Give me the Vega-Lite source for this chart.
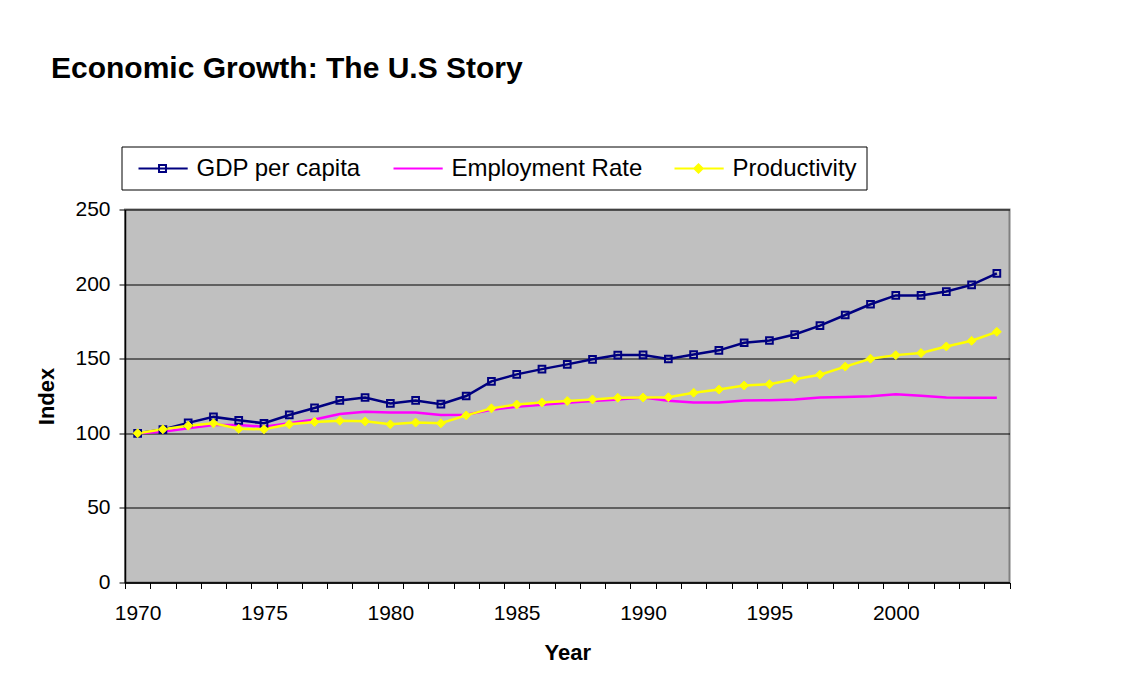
{
  "$schema": "https://vega.github.io/schema/vega-lite/v6.json",
  "width": 884.5,
  "height": 373,
  "autosize": "none",
  "padding": {"left": 125, "top": 209.5, "right": 120.5, "bottom": 111.5},
  "background": "white",
  "title": {
    "text": "Economic Growth: The U.S Story",
    "anchor": "start",
    "frame": "group",
    "font": "Liberation Sans",
    "fontSize": 30,
    "fontWeight": "bold",
    "color": "black",
    "offset": 62,
    "dx": -74
  },
  "config": {
    "font": "Liberation Sans",
    "view": {"fill": "#C0C0C0", "stroke": "#808080", "strokeWidth": 2}
  },
  "data": {
    "values": [
      {"Year": 1970, "Series": "GDP per capita", "Value": 100},
      {"Year": 1971, "Series": "GDP per capita", "Value": 102.5},
      {"Year": 1972, "Series": "GDP per capita", "Value": 107},
      {"Year": 1973, "Series": "GDP per capita", "Value": 111},
      {"Year": 1974, "Series": "GDP per capita", "Value": 108.7},
      {"Year": 1975, "Series": "GDP per capita", "Value": 106.7},
      {"Year": 1976, "Series": "GDP per capita", "Value": 112.3},
      {"Year": 1977, "Series": "GDP per capita", "Value": 117},
      {"Year": 1978, "Series": "GDP per capita", "Value": 122},
      {"Year": 1979, "Series": "GDP per capita", "Value": 124},
      {"Year": 1980, "Series": "GDP per capita", "Value": 120},
      {"Year": 1981, "Series": "GDP per capita", "Value": 122},
      {"Year": 1982, "Series": "GDP per capita", "Value": 119.5},
      {"Year": 1983, "Series": "GDP per capita", "Value": 125},
      {"Year": 1984, "Series": "GDP per capita", "Value": 134.8},
      {"Year": 1985, "Series": "GDP per capita", "Value": 139.5},
      {"Year": 1986, "Series": "GDP per capita", "Value": 143},
      {"Year": 1987, "Series": "GDP per capita", "Value": 146.2},
      {"Year": 1988, "Series": "GDP per capita", "Value": 149.6},
      {"Year": 1989, "Series": "GDP per capita", "Value": 152.4},
      {"Year": 1990, "Series": "GDP per capita", "Value": 152.5},
      {"Year": 1991, "Series": "GDP per capita", "Value": 149.8},
      {"Year": 1992, "Series": "GDP per capita", "Value": 152.8},
      {"Year": 1993, "Series": "GDP per capita", "Value": 155.6},
      {"Year": 1994, "Series": "GDP per capita", "Value": 160.7},
      {"Year": 1995, "Series": "GDP per capita", "Value": 162.2},
      {"Year": 1996, "Series": "GDP per capita", "Value": 166.2},
      {"Year": 1997, "Series": "GDP per capita", "Value": 172.2},
      {"Year": 1998, "Series": "GDP per capita", "Value": 179.3},
      {"Year": 1999, "Series": "GDP per capita", "Value": 186.5},
      {"Year": 2000, "Series": "GDP per capita", "Value": 192.4},
      {"Year": 2001, "Series": "GDP per capita", "Value": 192.4},
      {"Year": 2002, "Series": "GDP per capita", "Value": 195},
      {"Year": 2003, "Series": "GDP per capita", "Value": 199.5},
      {"Year": 2004, "Series": "GDP per capita", "Value": 207.2},
      {"Year": 1970, "Series": "Employment Rate", "Value": 100},
      {"Year": 1971, "Series": "Employment Rate", "Value": 101},
      {"Year": 1972, "Series": "Employment Rate", "Value": 103.3},
      {"Year": 1973, "Series": "Employment Rate", "Value": 105.6},
      {"Year": 1974, "Series": "Employment Rate", "Value": 105.6},
      {"Year": 1975, "Series": "Employment Rate", "Value": 104.4},
      {"Year": 1976, "Series": "Employment Rate", "Value": 106.7},
      {"Year": 1977, "Series": "Employment Rate", "Value": 109.3},
      {"Year": 1978, "Series": "Employment Rate", "Value": 112.9},
      {"Year": 1979, "Series": "Employment Rate", "Value": 114.4},
      {"Year": 1980, "Series": "Employment Rate", "Value": 114},
      {"Year": 1981, "Series": "Employment Rate", "Value": 114},
      {"Year": 1982, "Series": "Employment Rate", "Value": 112.2},
      {"Year": 1983, "Series": "Employment Rate", "Value": 112.4},
      {"Year": 1984, "Series": "Employment Rate", "Value": 115.8},
      {"Year": 1985, "Series": "Employment Rate", "Value": 117.8},
      {"Year": 1986, "Series": "Employment Rate", "Value": 119.1},
      {"Year": 1987, "Series": "Employment Rate", "Value": 120.4},
      {"Year": 1988, "Series": "Employment Rate", "Value": 121.6},
      {"Year": 1989, "Series": "Employment Rate", "Value": 122.7},
      {"Year": 1990, "Series": "Employment Rate", "Value": 124},
      {"Year": 1991, "Series": "Employment Rate", "Value": 121.8},
      {"Year": 1992, "Series": "Employment Rate", "Value": 120.7},
      {"Year": 1993, "Series": "Employment Rate", "Value": 120.7},
      {"Year": 1994, "Series": "Employment Rate", "Value": 122},
      {"Year": 1995, "Series": "Employment Rate", "Value": 122.2},
      {"Year": 1996, "Series": "Employment Rate", "Value": 122.7},
      {"Year": 1997, "Series": "Employment Rate", "Value": 124},
      {"Year": 1998, "Series": "Employment Rate", "Value": 124.4},
      {"Year": 1999, "Series": "Employment Rate", "Value": 124.9},
      {"Year": 2000, "Series": "Employment Rate", "Value": 126.2},
      {"Year": 2001, "Series": "Employment Rate", "Value": 125.1},
      {"Year": 2002, "Series": "Employment Rate", "Value": 124},
      {"Year": 2003, "Series": "Employment Rate", "Value": 123.8},
      {"Year": 2004, "Series": "Employment Rate", "Value": 123.8},
      {"Year": 1970, "Series": "Productivity", "Value": 100},
      {"Year": 1971, "Series": "Productivity", "Value": 102.7},
      {"Year": 1972, "Series": "Productivity", "Value": 105.1},
      {"Year": 1973, "Series": "Productivity", "Value": 106.7},
      {"Year": 1974, "Series": "Productivity", "Value": 103},
      {"Year": 1975, "Series": "Productivity", "Value": 102.7},
      {"Year": 1976, "Series": "Productivity", "Value": 106},
      {"Year": 1977, "Series": "Productivity", "Value": 107.6},
      {"Year": 1978, "Series": "Productivity", "Value": 108.4},
      {"Year": 1979, "Series": "Productivity", "Value": 108},
      {"Year": 1980, "Series": "Productivity", "Value": 106},
      {"Year": 1981, "Series": "Productivity", "Value": 107.2},
      {"Year": 1982, "Series": "Productivity", "Value": 106.7},
      {"Year": 1983, "Series": "Productivity", "Value": 112},
      {"Year": 1984, "Series": "Productivity", "Value": 116.7},
      {"Year": 1985, "Series": "Productivity", "Value": 119.3},
      {"Year": 1986, "Series": "Productivity", "Value": 120.7},
      {"Year": 1987, "Series": "Productivity", "Value": 121.6},
      {"Year": 1988, "Series": "Productivity", "Value": 122.7},
      {"Year": 1989, "Series": "Productivity", "Value": 123.8},
      {"Year": 1990, "Series": "Productivity", "Value": 124},
      {"Year": 1991, "Series": "Productivity", "Value": 124.2},
      {"Year": 1992, "Series": "Productivity", "Value": 127.2},
      {"Year": 1993, "Series": "Productivity", "Value": 129.3},
      {"Year": 1994, "Series": "Productivity", "Value": 132},
      {"Year": 1995, "Series": "Productivity", "Value": 132.9},
      {"Year": 1996, "Series": "Productivity", "Value": 136.2},
      {"Year": 1997, "Series": "Productivity", "Value": 139.3},
      {"Year": 1998, "Series": "Productivity", "Value": 144.7},
      {"Year": 1999, "Series": "Productivity", "Value": 150},
      {"Year": 2000, "Series": "Productivity", "Value": 152.4},
      {"Year": 2001, "Series": "Productivity", "Value": 153.8},
      {"Year": 2002, "Series": "Productivity", "Value": 158.2},
      {"Year": 2003, "Series": "Productivity", "Value": 162},
      {"Year": 2004, "Series": "Productivity", "Value": 168}
    ]
  },
  "encoding": {
    "x": {
      "field": "Year",
      "type": "quantitative",
      "scale": {"domain": [1969.5, 2004.5], "nice": false, "zero": false},
      "axis": {
        "title": "Year",
        "values": [1969.5, 1970.5, 1971.5, 1972.5, 1973.5, 1974.5, 1975.5, 1976.5, 1977.5, 1978.5, 1979.5, 1980.5, 1981.5, 1982.5, 1983.5, 1984.5, 1985.5, 1986.5, 1987.5, 1988.5, 1989.5, 1990.5, 1991.5, 1992.5, 1993.5, 1994.5, 1995.5, 1996.5, 1997.5, 1998.5, 1999.5, 2000.5, 2001.5, 2002.5, 2003.5, 2004.5],
        "labelExpr": "((datum.value + 0.5) % 5 === 0 && datum.value < 2004) ? format(datum.value + 0.5, 'd') : ''",
        "labelOffset": 12.6,
        "labelFlush": false,
        "labelOverlap": false,
        "labelFont": "Liberation Sans",
        "labelFontSize": 21,
        "labelColor": "black",
        "labelPadding": 14,
        "tickSize": 6,
        "tickColor": "black",
        "tickWidth": 1,
        "domainColor": "black",
        "domainWidth": 1.5,
        "grid": false,
        "titleFont": "Liberation Sans",
        "titleFontSize": 22,
        "titleFontWeight": "bold",
        "titleColor": "black",
        "titlePadding": 19
      }
    },
    "y": {
      "field": "Value",
      "type": "quantitative",
      "scale": {"domain": [0, 250], "nice": false},
      "axis": {
        "title": "Index",
        "values": [0, 50, 100, 150, 200, 250],
        "grid": true,
        "gridColor": "black",
        "gridWidth": 1,
        "labelFont": "Liberation Sans",
        "labelFontSize": 21,
        "labelColor": "black",
        "labelPadding": 9,
        "tickSize": 6,
        "tickColor": "black",
        "domainColor": "black",
        "domainWidth": 1.5,
        "titleFont": "Liberation Sans",
        "titleFontSize": 22,
        "titleFontWeight": "bold",
        "titleColor": "black",
        "titlePadding": 16
      }
    }
  },
  "layer": [
    {
      "mark": {"type": "line", "strokeWidth": 2.5},
      "encoding": {
        "color": {
          "field": "Series",
          "type": "nominal",
          "scale": {
            "domain": ["GDP per capita", "Employment Rate", "Productivity"],
            "range": ["#000080", "#FF00FF", "#FFFF00"]
          },
          "legend": {
            "orient": "none",
            "legendX": -3.5,
            "legendY": -63,
            "direction": "horizontal",
            "title": null,
            "strokeColor": "black",
            "fillColor": "white",
            "padding": 9,
            "labelFont": "Liberation Sans",
            "labelFontSize": 24,
            "labelColor": "black",
            "labelLimit": 500,
            "labelOffset": 33,
            "symbolSize": 576,
            "symbolStrokeWidth": 2,
            "symbolOffset": 7,
            "columnPadding": 24,
            "encode": {
              "symbols": {
                "update": {
                  "shape": {"signal": "datum.value === 'GDP per capita' ? 'M-1,0H3.1M0.71,-0.29H1.29V0.29H0.71Z' : (datum.value === 'Productivity' ? 'M-1,0H3.1M0.65,0L1,-0.35L1.35,0L1,0.35Z' : 'M-1,0H3.1')"},
                  "fill": {"signal": "datum.value === 'Productivity' ? '#FFFF00' : 'transparent'"}
                }
              }
            }
          }
        }
      }
    },
    {
      "transform": [{"filter": "datum.Series === 'GDP per capita'"}],
      "mark": {"type": "point", "shape": "square", "filled": false, "stroke": "#000080", "strokeWidth": 2, "size": 45, "opacity": 1}
    },
    {
      "transform": [{"filter": "datum.Series === 'Productivity'"}],
      "mark": {"type": "point", "shape": "diamond", "filled": true, "fill": "#FFFF00", "stroke": "#FFFF00", "strokeWidth": 1, "size": 80, "opacity": 1}
    }
  ]
}
